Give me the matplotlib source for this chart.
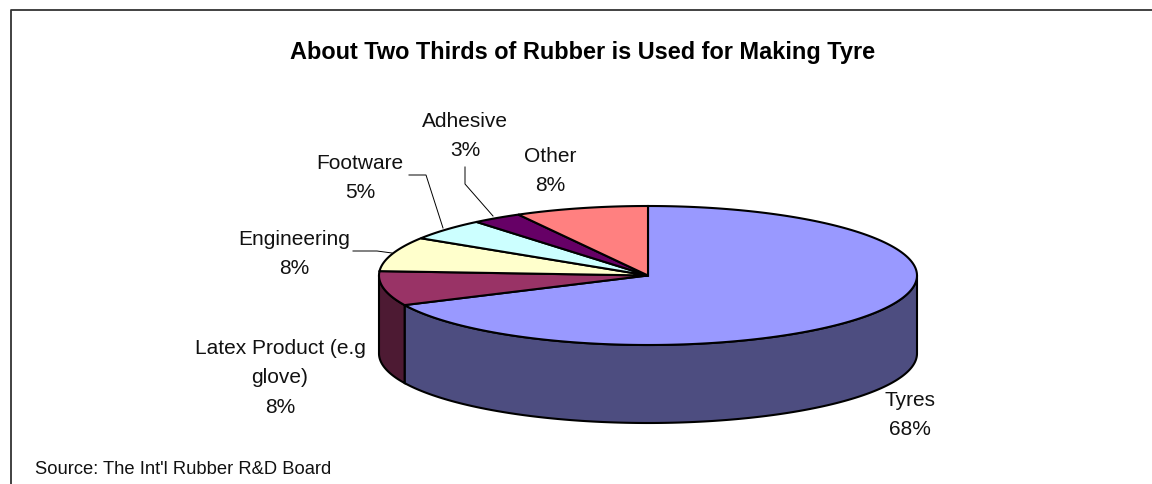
import numpy as np
import matplotlib
matplotlib.use("Agg")
import matplotlib.pyplot as plt
from matplotlib.patches import Polygon

# 数据
categories = ["Tyres", "Latex Product (e.g\nglove)", "Engineering", "Footware", "Adhesive", "Other"]
values = [68, 8, 8, 5, 3, 8]
top_colors = ["#9999FF", "#993366", "#FFFFCC", "#CCFFFF", "#660066", "#FF8080"]
side_colors = ["#4D4D80", "#4D1A33", "#808066", "#668080", "#330033", "#804040"]

title = "About Two Thirds of Rubber is Used for Making Tyre"
source = "Source: The Int'l Rubber R&D Board"

# 饼图几何 (像素)
CX, CY, RX, RY, DEPTH = 648, 276.5, 269, 69.5, 78

# 标签中心位置
label_pos = [(910, 415), (280, 378), (294, 254), (360, 178), (465, 136), (550, 171)]
leaders = [
    [(353, 252), (377, 252), (392, 254)],
    [(409, 176), (426, 176), (443, 229)],
    [(465, 168), (465, 185), (493, 217)],
]

plt.rcParams["font.family"] = ["Liberation Sans", "DejaVu Sans"]

fig = plt.figure(figsize=(11.52, 4.85), dpi=100)
ax = fig.add_axes([0, 0, 1, 1])
ax.set_xlim(0, 1152)
ax.set_ylim(485, 0)
ax.axis("off")

# 外框 (只有左边和上边可见)
ax.plot([10.5, 10.5, 1152], [485, 10.5, 10.5], color="#333333", lw=1.3, zorder=1)


def rim(a0, a1, dy=0):
    ts = np.radians(np.linspace(a0, a1, 200))
    return np.column_stack([CX + RX * np.cos(ts), CY - RY * np.sin(ts) + dy])


# 从 12 点钟方向顺时针排布
angles = 90 - np.cumsum([0] + values) * 3.6

# 先画侧面
for i in range(len(values)):
    a0, a1 = angles[i], angles[i + 1]
    # 只有下半圆的部分可见
    lo, hi = max(a1, -180), min(a0, 0)
    if lo >= hi:
        continue
    upper = rim(hi, lo)
    lower = rim(lo, hi, DEPTH)
    ax.add_patch(Polygon(np.vstack([upper, lower]), closed=True, facecolor=side_colors[i],
                         edgecolor="black", lw=1.5, zorder=2))

# 再画顶面
for i in range(len(values)):
    pts = np.vstack([[(CX, CY)], rim(angles[i], angles[i + 1])])
    ax.add_patch(Polygon(pts, closed=True, facecolor=top_colors[i],
                         edgecolor="black", lw=1.5, zorder=3))

# 标签
for name, val, (x, y) in zip(categories, values, label_pos):
    ax.text(x, y, f"{name}\n{val}%", ha="center", va="center", fontsize=15,
            linespacing=1.7, color="#111111", zorder=5)

for line in leaders:
    xs, ys = zip(*line)
    ax.plot(xs, ys, color="black", lw=0.7, zorder=4)

ax.text(583, 52.5, title, ha="center", va="center", fontsize=16.9, fontweight="bold", color="black")
ax.text(35, 469.5, source, ha="left", va="center", fontsize=13.2, color="#111111")

fig.savefig("out.png", dpi=100)
